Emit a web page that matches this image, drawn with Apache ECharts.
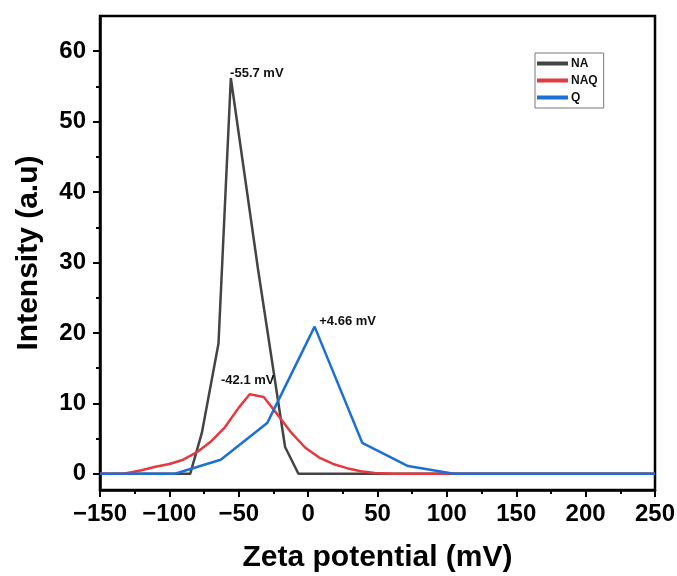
<!DOCTYPE html>
<html>
<head>
<meta charset="utf-8">
<script src="https://cdn.jsdelivr.net/npm/echarts@6/dist/echarts.min.js"></script>
<style>
  html, body { margin: 0; padding: 0; background: #fff; }
  #chart { width: 677px; height: 576px; }
</style>
</head>
<body>
<div id="chart"></div>
<script>
// zeta potential (mV) / intensity pairs
const naX = [-150, -85, -76.6, -64.6, -55.7, -36, -16.6, -7, 250];
const naY = [0, 0, 5.8, 18.5, 56.2, 28.9, 3.8, 0, 0];

const naqX = [-150, -133, -120, -110, -100, -90, -80, -70, -60, -50, -42.1, -32, -22, -12, -2, 8, 18, 28, 38, 48, 62, 105, 250];
const naqY = [0, 0, 0.5, 1.0, 1.4, 2.0, 3.1, 4.6, 6.6, 9.4, 11.3, 10.9, 8.4, 5.8, 3.7, 2.3, 1.4, 0.8, 0.35, 0.1, 0, 0, 0];

const qX = [-150, -96, -63, -29.5, 4.66, 39, 72, 105, 250];
const qY = [0, 0, 2.0, 7.2, 20.9, 4.4, 1.1, 0, 0];

const xTicks = [-150, -100, -50, 0, 50, 100, 150, 200, 250];
const yTicks = [0, 10, 20, 30, 40, 50, 60];
const yMinor = [5, 15, 25, 35, 45, 55];

const FONT = 'Arial, "Liberation Sans", sans-serif';
const pairs = (xs, ys) => xs.map((x, i) => [x, ys[i]]);

const chart = echarts.init(document.getElementById('chart'));

function peakLabel(x, y, text, offset) {
  return {
    symbol: 'circle',
    symbolSize: 0,
    data: [{ coord: [x, y], value: text }],
    label: {
      show: true,
      position: 'inside',
      offset: offset,
      formatter: text,
      color: '#111',
      fontFamily: FONT,
      fontWeight: 'bold',
      fontSize: 13
    }
  };
}

chart.setOption({
  animation: false,
  backgroundColor: '#fff',
  grid: {
    left: 100, right: 22, top: 16, bottom: 86,
    outerBoundsMode: 'none',
    show: true, borderColor: '#000', borderWidth: 2.5
  },
  legend: {
    orient: 'vertical',
    left: 535, top: 53,
    data: ['NA', 'NAQ', 'Q'],
    icon: 'rect',
    itemWidth: 31, itemHeight: 4,
    itemGap: 4,
    padding: [4, 6, 4, 2],
    borderColor: '#777', borderWidth: 1,
    textStyle: { fontFamily: FONT, fontWeight: 'bold', fontSize: 12, lineHeight: 13, color: '#111', padding: [0, 0, 0, -2] }
  },
  xAxis: {
    type: 'value',
    min: -150, max: 250, interval: 50,
    name: 'Zeta potential (mV)',
    nameLocation: 'middle',
    nameGap: 53,
    nameTextStyle: { fontFamily: FONT, fontWeight: 'bold', fontSize: 30, color: '#000' },
    axisLine: { onZero: false, lineStyle: { color: '#000', width: 2.5 } },
    axisTick: { show: true, length: 7, lineStyle: { width: 2, color: '#000' } },
    minorTick: { show: true, splitNumber: 2, length: 4, lineStyle: { width: 2, color: '#000' } },
    axisLabel: {
      customValues: xTicks,
      margin: 12,
      fontFamily: FONT, fontWeight: 'bold', fontSize: 24, color: '#000',
      formatter: v => (v < 0 ? '\u2212' + Math.abs(v) : String(v))
    },
    splitLine: { show: false }
  },
  yAxis: [{
    type: 'value',
    min: -2.3, max: 65,
    name: 'Intensity (a.u)',
    nameLocation: 'middle',
    nameGap: 56,
    nameTextStyle: { fontFamily: FONT, fontWeight: 'bold', fontSize: 30, color: '#000' },
    axisLine: { show: true, onZero: false, lineStyle: { color: '#000', width: 2.5 } },
    axisTick: { show: true, customValues: yTicks, length: 7, lineStyle: { width: 2, color: '#000' } },
    axisLabel: {
      customValues: yTicks,
      margin: 14,
      fontFamily: FONT, fontWeight: 'bold', fontSize: 24, color: '#000'
    },
    splitLine: { show: false }
  }, {
    type: 'value',
    position: 'left',
    min: -2.3, max: 65,
    axisLine: { show: false, onZero: false },
    axisTick: { show: true, customValues: yMinor, length: 4, lineStyle: { width: 2, color: '#000' } },
    axisLabel: { show: false, customValues: yMinor },
    splitLine: { show: false }
  }],
  series: [{
    name: 'NA',
    type: 'line',
    data: pairs(naX, naY),
    showSymbol: false,
    color: '#444',
    lineStyle: { width: 2.5, color: '#444' },
    markPoint: peakLabel(-55.7, 56.2, '-55.7 mV', [26, -5])
  }, {
    name: 'NAQ',
    type: 'line',
    data: pairs(naqX, naqY),
    showSymbol: false,
    color: '#e5393f',
    lineStyle: { width: 2.5, color: '#e5393f' },
    markPoint: peakLabel(-42.1, 11.3, '-42.1 mV', [-2, -14])
  }, {
    name: 'Q',
    type: 'line',
    data: pairs(qX, qY),
    showSymbol: false,
    color: '#1c6fd6',
    lineStyle: { width: 2.5, color: '#1c6fd6' },
    markPoint: peakLabel(4.66, 20.9, '+4.66 mV', [33, -5])
  }]
});
</script>
</body>
</html>
